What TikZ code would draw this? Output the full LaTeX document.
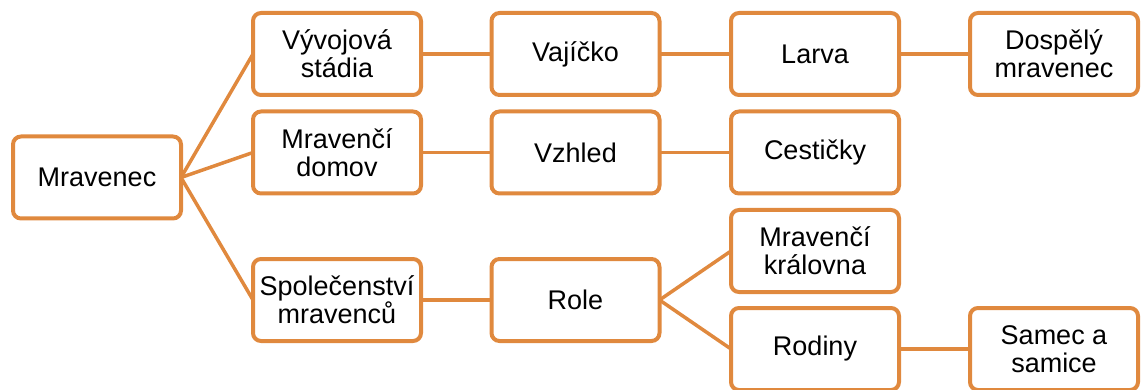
\documentclass[tikz,border=0pt]{standalone}
\usepackage{fontspec}
\setmainfont{Liberation Sans}
\definecolor{oline}{RGB}{224,137,62}
\begin{document}
\begin{tikzpicture}[x=1pt,y=-1pt,
  box/.style={draw=oline,line width=4pt,rounded corners=8pt,fill=white,
    minimum width=168pt,minimum height=82pt,inner sep=1pt,outer sep=0pt,
    align=center,font=\fontsize{27}{28}\selectfont},
  link/.style={draw=oline,line width=3.5pt}]
\useasboundingbox (0,0) rectangle (1143,390);
\node[box] (m) at (97,177.5) {Mravenec};
\node[box] (vs) at (337,54) {Vývojová\\stádia};
\node[box] (md) at (337,152.5) {Mravenčí\\domov};
\node[box] (sm) at (337,300) {Společenství\\mravenců};
\node[box] (vj) at (575.5,54) {Vajíčko};
\node[box] (vz) at (575.5,152.5) {Vzhled};
\node[box] (ro) at (575.5,300) {Role};
\node[box] (la) at (815,54) {Larva};
\node[box] (ce) at (815,152.5) {Cestičky};
\node[box] (mk) at (815,251) {Mravenčí\\královna};
\node[box] (rd) at (815,349) {Rodiny};
\node[box] (dm) at (1054,54) {Dospělý\\mravenec};
\node[box] (ss) at (1054,349) {Samec a\\samice};
\draw[link] (m.east) -- (vs.west);
\draw[link] (m.east) -- (md.west);
\draw[link] (m.east) -- (sm.west);
\draw[link] (vs.east) -- (vj.west);
\draw[link] (vj.east) -- (la.west);
\draw[link] (la.east) -- (dm.west);
\draw[link] (md.east) -- (vz.west);
\draw[link] (vz.east) -- (ce.west);
\draw[link] (sm.east) -- (ro.west);
\draw[link] (ro.east) -- (mk.west);
\draw[link] (ro.east) -- (rd.west);
\draw[link] (rd.east) -- (ss.west);
\end{tikzpicture}
\end{document}
